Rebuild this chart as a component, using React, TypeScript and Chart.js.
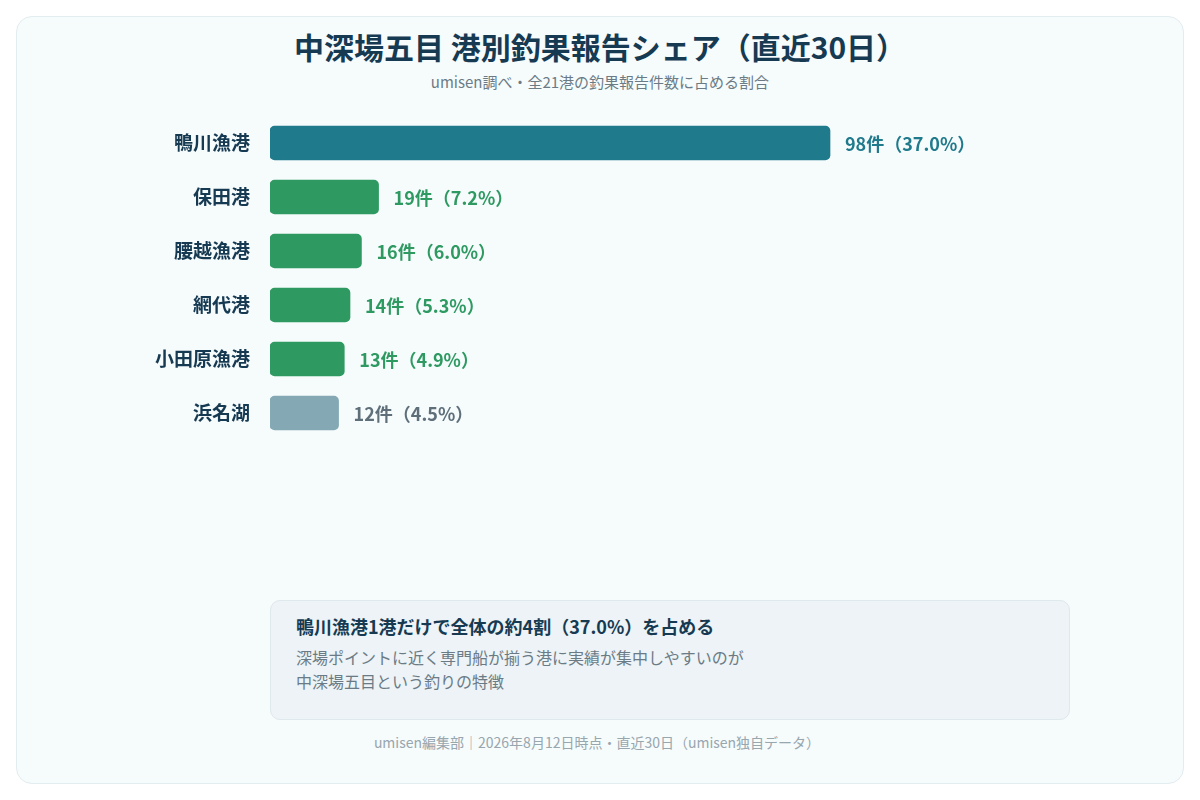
import React, { useEffect, useRef } from "react";
import { Chart, registerables } from "chart.js";

Chart.register(...registerables);

const ports: string[] = ["鴨川漁港", "保田港", "腰越漁港", "網代港", "小田原漁港", "浜名湖"];
const reports: number[] = [98, 19, 16, 14, 13, 12];
const shares: number[] = [37.0, 7.2, 6.0, 5.3, 4.9, 4.5];
const barColors: string[] = ["#1f7a8c", "#2e9a62", "#2e9a62", "#2e9a62", "#2e9a62", "#84a9b4"];
const labelColors: string[] = ["#1f7a8c", "#2e9a62", "#2e9a62", "#2e9a62", "#2e9a62", "#5f6f7a"];

const FONT = '"Noto Sans CJK JP", "Noto Sans", sans-serif';

// draws "98件（37.0%）" right after each bar end
const valueLabels = {
  id: "valueLabels",
  afterDatasetsDraw(chart: Chart) {
    const { ctx } = chart;
    const meta = chart.getDatasetMeta(0);
    ctx.save();
    ctx.font = `bold 18px ${FONT}`;
    ctx.textBaseline = "middle";
    ctx.textAlign = "left";
    meta.data.forEach((bar: any, i: number) => {
      ctx.fillStyle = labelColors[i];
      ctx.fillText(`${reports[i]}件（${shares[i].toFixed(1)}%）`, bar.x + 15, bar.y + 1);
    });
    ctx.restore();
  },
};

const App: React.FC = () => {
  const chartRef = useRef<HTMLCanvasElement>(null);
  const chartInstance = useRef<Chart | null>(null);

  useEffect(() => {
    if (!chartRef.current) return;
    if (chartInstance.current) chartInstance.current.destroy();

    chartInstance.current = new Chart(chartRef.current, {
      type: "bar",
      data: {
        labels: ports,
        datasets: [
          {
            data: reports,
            backgroundColor: barColors,
            borderRadius: 5,
            borderSkipped: false,
            barThickness: 34,
          },
        ],
      },
      options: {
        indexAxis: "y",
        animation: false,
        responsive: false,
        maintainAspectRatio: false,
        layout: { padding: { top: 10, bottom: 10, right: 30, left: 0 } },
        plugins: {
          legend: { display: false },
          tooltip: { enabled: false },
        },
        scales: {
          x: {
            display: false,
            min: 0,
            max: 140,
          },
          y: {
            grid: { display: false, drawTicks: false },
            border: { display: false },
            ticks: {
              padding: 20,
              color: "#163a52",
              font: { family: FONT, size: 19, weight: "bold" },
            },
            afterFit(scale: any) {
              scale.width = 170;
              scale.paddingTop = 0;
              scale.paddingBottom = 0;
            },
          },
        },
      },
      plugins: [valueLabels],
    });

    return () => {
      if (chartInstance.current) {
        chartInstance.current.destroy();
        chartInstance.current = null;
      }
    };
  }, []);

  return (
    <div
      style={{
        position: "fixed",
        left: 0,
        top: 0,
        width: 1200,
        height: 800,
        background: "#ffffff",
        fontFamily: FONT,
      }}
    >
      <div
        style={{
          position: "absolute",
          left: 16,
          top: 16,
          width: 1166,
          height: 766,
          border: "1px solid #e3ecef",
          borderRadius: 16,
          background: "#f6fbfc",
        }}
      />
      <div
        style={{
          position: "absolute",
          left: 0,
          top: 26,
          width: 1200,
          textAlign: "center",
          fontSize: 30,
          fontWeight: "bold",
          lineHeight: "40px",
          color: "#163a52",
        }}
      >
        中深場五目 港別釣果報告シェア（直近30日）
      </div>
      <div
        style={{
          position: "absolute",
          left: 0,
          top: 72,
          width: 1200,
          textAlign: "center",
          fontSize: 15,
          lineHeight: "20px",
          color: "#6b7b86",
        }}
      >
        umisen調べ・全21港の釣果報告件数に占める割合
      </div>
      <canvas
        ref={chartRef}
        width={1000}
        height={344}
        style={{ position: "absolute", left: 100, top: 106, width: 1000, height: 344 }}
      />
      <div
        style={{
          position: "absolute",
          left: 270,
          top: 600,
          width: 800,
          height: 120,
          boxSizing: "border-box",
          border: "1px solid #dfe8ec",
          borderRadius: 10,
          background: "#edf3f6",
          padding: "11px 25px",
        }}
      >
        <div style={{ fontSize: 18, fontWeight: "bold", lineHeight: "28px", color: "#163a52" }}>
          鴨川漁港1港だけで全体の約4割（37.0%）を占める
        </div>
        <div style={{ fontSize: 16, lineHeight: "24px", color: "#6b7b86", marginTop: 5 }}>
          深場ポイントに近く専門船が揃う港に実績が集中しやすいのが
          <br />
          中深場五目という釣りの特徴
        </div>
      </div>
      <div
        style={{
          position: "absolute",
          left: 0,
          top: 732,
          width: 1194,
          textAlign: "center",
          fontSize: 14,
          lineHeight: "20px",
          color: "#98a6ae",
        }}
      >
        umisen編集部｜2026年8月12日時点・直近30日（umisen独自データ）
      </div>
    </div>
  );
};

export default App;
